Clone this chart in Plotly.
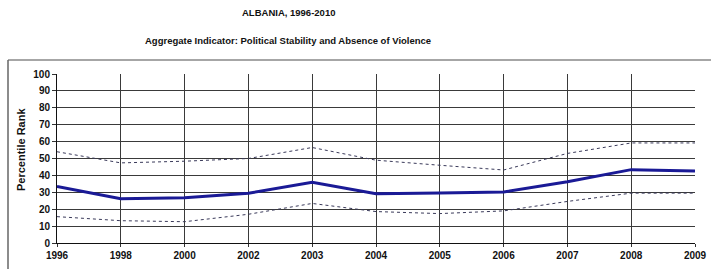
import plotly.graph_objects as go

years = ["1996", "1998", "2000", "2002", "2003", "2004", "2005", "2006", "2007", "2008", "2009"]
rank = [33.5, 26.2, 26.8, 29.4, 36.0, 29.2, 29.6, 30.2, 36.2, 43.4, 42.6]
upper = [54.0, 47.4, 48.4, 50.0, 56.5, 49.0, 46.0, 43.2, 53.0, 59.2, 59.2]
lower = [15.6, 13.2, 12.6, 17.0, 23.4, 18.6, 17.4, 19.0, 24.6, 29.5, 29.5]
yticks = [0, 10, 20, 30, 40, 50, 60, 70, 80, 90, 100]

FONT = "Liberation Sans, Arial, sans-serif"

fig = go.Figure()
fig.add_trace(go.Scatter(x=years, y=upper, mode="lines",
                         line=dict(color="#3a3a5a", width=1, dash="dot"), showlegend=False))
fig.add_trace(go.Scatter(x=years, y=lower, mode="lines",
                         line=dict(color="#3a3a5a", width=1, dash="dot"), showlegend=False))
fig.add_trace(go.Scatter(x=years, y=rank, mode="lines",
                         line=dict(color="#1a1a96", width=3), showlegend=False))

W, H = 711, 269
L, R, T, B = 57, 16, 74, 26
pw, ph = W - L - R, H - T - B

def px(x):
    return (x - L) / pw

def py(y):
    return (H - B - y) / ph

fig.update_layout(
    width=W, height=H,
    margin=dict(l=L, r=R, t=T, b=B),
    paper_bgcolor="white", plot_bgcolor="white",
    font=dict(family=FONT, color="#111111"),
    xaxis=dict(type="category", range=[0, len(years) - 1], showgrid=True, automargin=False,
               gridcolor="#3a3a3a", gridwidth=1, showline=True, linecolor="#111111",
               ticks="outside", ticklen=3, tickcolor="#333333",
               tickfont=dict(size=10, family=FONT, weight="bold"), zeroline=False),
    yaxis=dict(range=[0, 100], tickvals=yticks, showgrid=True, gridcolor="#3a3a3a", automargin=False,
               gridwidth=1, showline=True, linecolor="#111111", ticks="outside",
               ticklen=4, tickcolor="#333333",
               tickfont=dict(size=10, family=FONT, weight="bold"), zeroline=False),
    annotations=[
        dict(text="<b>ALBANIA, 1996-2010</b>", x=px(288), y=py(13), xref="paper", yref="paper",
             showarrow=False, font=dict(size=9.5, family=FONT), xanchor="center", yanchor="middle"),
        dict(text="<b>Aggregate Indicator: Political Stability and Absence of Violence</b>",
             x=px(288), y=py(40), xref="paper", yref="paper", showarrow=False,
             font=dict(size=9.5, family=FONT), xanchor="center", yanchor="middle"),
        dict(text="<b>Percentile Rank</b>", x=px(21), y=py(150), xref="paper", yref="paper",
             showarrow=False, textangle=-90, font=dict(size=11, family=FONT),
             xanchor="center", yanchor="middle"),
    ],
    shapes=[
        dict(type="line", xref="paper", yref="paper", x0=px(8), x1=px(711), y0=py(60), y1=py(60),
             line=dict(color="#888888", width=1.5)),
        dict(type="line", xref="paper", yref="paper", x0=px(8), x1=px(8), y0=py(60), y1=py(269),
             line=dict(color="#666666", width=1.5)),
    ],
)

fig.write_html("out.html", config={"displayModeBar": False},
               post_script="document.body.style.margin='0';document.body.style.overflow='hidden';")
